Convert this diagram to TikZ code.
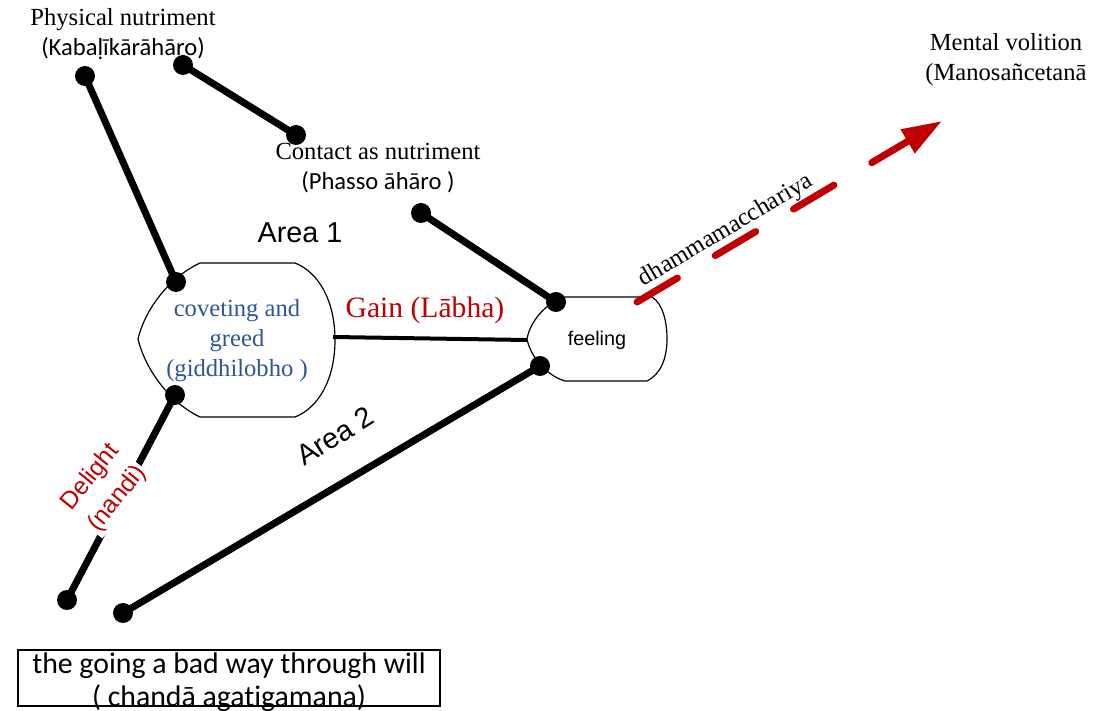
\documentclass[tikz,border=0pt]{standalone}
\usepackage{fontspec}
\setmainfont{Liberation Serif}
\newfontfamily\calfont[Ligatures=NoCommon]{Carlito}
\newfontfamily\arialfont{Liberation Sans}
\usetikzlibrary{arrows.meta}
\definecolor{darkred}{HTML}{C00000}
\definecolor{greedblue}{HTML}{2F5597}

\begin{document}
\begin{tikzpicture}[x=0.5pt,y=-0.5pt]
\tikzstyle{every node}=[align=center,inner sep=1pt]
\tikzstyle{serif}=[font=\fontsize{12.3}{15}\selectfont]
\tikzstyle{arial}=[font=\arialfont\fontsize{12.3}{15}\selectfont]
\tikzstyle{link}=[line width=3.5pt]
\tikzstyle{outline}=[line width=0.6pt]

\useasboundingbox (0,0) rectangle (1115,711);

% end points of the lines
\coordinate (p1) at (85,76);
\coordinate (p2) at (183,65);
\coordinate (p3) at (176,282);
\coordinate (p4) at (175,395);
\coordinate (p5) at (67,600);
\coordinate (p6) at (123,613);
\coordinate (p7) at (540,366);
\coordinate (p8) at (421,213);
\coordinate (p9) at (556,302);
\coordinate (p10) at (296,135);
\coordinate (cr) at (333,337);
\coordinate (fl) at (527,340);
\coordinate (a0) at (637,302);
\coordinate (a1) at (942,121);

% the two shapes
\draw[outline] (200,263) -- (295,263) .. controls (318,272) and (335,300) .. (335,340)
  .. controls (335,380) and (318,408) .. (295,417) -- (200,417)
  .. controls (172,404) and (146,372) .. (138,339)
  .. controls (146,306) and (172,276) .. (200,263) -- cycle;
\draw[outline] (565,297) -- (652,297) .. controls (663,304) and (667,322) .. (667,339)
  .. controls (667,358) and (661,374) .. (647,381) -- (565,381)
  .. controls (545,375) and (530,355) .. (527,339)
  .. controls (530,322) and (545,303) .. (565,297) -- cycle;

% texts
\node[serif] (physical) at (123,34) {Physical nutriment\\{\calfont (Kabaḷīkārāhāro)}};
\node[serif] (mental) at (1006,60) {Mental volition\\(Manosañcetanā};
\node[serif] (contact) at (378,168) {Contact as nutriment\\{\calfont (Phasso āhāro )}};
\node[serif, text=greedblue] (covet) at (237,341) {coveting and\\greed\\(giddhilobho )};
\node[font=\arialfont\fontsize{9.9}{12}\selectfont] (feeling) at (597,340) {feeling};
\node[font=\fontsize{14.8}{17}\selectfont, text=darkred] (gain) at (425,310) {Gain (Lābha)};
\node[font=\arialfont\fontsize{14.4}{17}\selectfont] (area1) at (300,233) {Area 1};
\node[font=\arialfont\fontsize{14.4}{17}\selectfont, rotate=32] (area2) at (335,436) {Area 2};
\node[serif, rotate=30.7, anchor=base] (dhamma) at (729,236) {dhammamacchariya};
\node[font=\calfont\fontsize{14.9}{16.5}\selectfont] (will) at (229,682) {the going a bad way through will\\( chandā agatigamana)};
\draw[outline] (18,650) rectangle (440,706);

% lines
\draw[link] (p1) -- (p3);
\draw[link] (p2) -- (p10);
\draw[link] (p8) -- (p9);
\draw[link] (p6) -- (p7);
\draw[link] (p4) -- (p5);
\draw[line width=2pt] (cr) -- (fl);

% dashed arrow
\draw[darkred, line width=3.5pt, line cap=round, dash pattern=on 23.5pt off 22pt,
  -{Triangle[length=20pt,width=13pt]}] (a0) -- (a1);

% label on the line, white behind it
\node[font=\arialfont\fontsize{12.3}{17}\selectfont, text=darkred, fill=white, rotate=51] (delight) at (104,488) {Delight\\(nandi)};

% dots
\foreach \i in {1,...,10}
  \fill (p\i) circle[radius=5pt];

\end{tikzpicture}
\end{document}
